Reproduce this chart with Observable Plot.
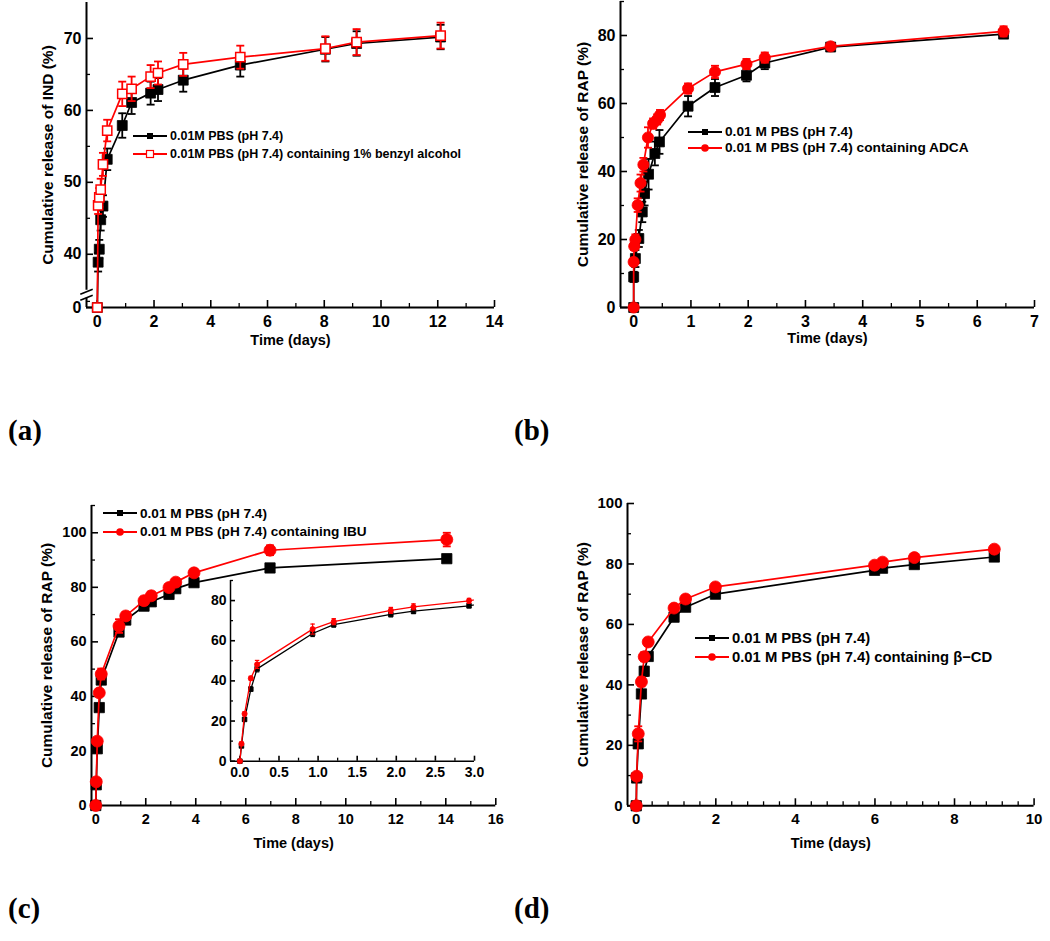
<!DOCTYPE html>
<html><head><meta charset="utf-8">
<script src="https://cdn.jsdelivr.net/npm/d3@7"></script>
<script src="https://cdn.jsdelivr.net/npm/@observablehq/plot@0.6"></script>
<style>
body{margin:0;background:#fff;}
#page{position:relative;width:1050px;height:941px;overflow:hidden;background:#fff;}
.plab{position:absolute;font-family:"Liberation Serif","Times New Roman",serif;font-weight:bold;font-size:29px;line-height:1;}
</style></head>
<body><div id="page"></div>
<script>
// ---------------- DATA ----------------
// Panel (a): IND release
const aTime   = [0, 0.03, 0.07, 0.12, 0.2, 0.35, 0.88, 1.21, 1.88, 2.14, 3.03, 5.04, 8.04, 9.14, 12.1];
const aPBS    = [0, 38.9, 40.7, 44.8, 46.7, 53.2, 57.9, 61.1, 62.4, 62.9, 64.2, 66.3, 68.5, 69.3, 70.2];
const aPBSErr = [0, 1.3, 1.3, 1.5, 1.5, 1.5, 1.7, 1.6, 1.6, 1.6, 1.6, 1.6, 1.7, 1.7, 1.7];
const aBA     = [0, 46.8, 47.9, 49.0, 52.5, 57.2, 62.3, 63.0, 64.7, 65.2, 66.4, 67.4, 68.6, 69.5, 70.4];
const aBAErr  = [0, 1.2, 1.3, 1.5, 1.6, 1.5, 1.7, 1.7, 1.6, 1.6, 1.6, 1.6, 1.7, 1.8, 1.8];

// Panel (b): RAP release, ADCA
const bTimePBS = [0, 0, 0.03, 0.09, 0.15, 0.19, 0.26, 0.37, 0.45, 0.95, 1.42, 1.97, 2.29, 3.44, 6.46];
const bPBS     = [0, 9.0, 14.4, 20.3, 28.1, 33.5, 39.2, 45.3, 48.7, 59.2, 64.7, 68.3, 71.9, 76.6, 80.4];
const bPBSErr  = [0, 1.5, 2.5, 2.5, 3.0, 3.5, 4.5, 3.5, 3.5, 3.0, 2.5, 1.8, 1.8, 1.0, 1.0];
const bTimeADCA = [0, 0, 0.01, 0.03, 0.07, 0.12, 0.17, 0.25, 0.34, 0.41, 0.46, 0.95, 1.42, 1.97, 2.29, 3.44, 6.46];
const bADCA     = [0, 13.4, 18.0, 20.0, 30.1, 36.6, 42.0, 50.0, 54.1, 55.3, 56.6, 64.4, 69.3, 71.6, 73.5, 76.8, 81.2];
const bADCAErr  = [0, 1.0, 1.0, 1.5, 2.0, 2.5, 2.0, 3.0, 1.5, 1.5, 1.5, 1.5, 1.8, 1.5, 1.5, 0.8, 1.5];

// Panel (c): RAP release, IBU (inset shows first 3 days of same data)
const cTime   = [0, 0.02, 0.06, 0.14, 0.22, 0.93, 1.2, 1.93, 2.22, 2.93, 3.2, 3.93, 6.97, 14.04];
const cPBS    = [0, 7.6, 20.8, 35.9, 46.0, 63.6, 68.0, 73.1, 74.7, 77.4, 79.5, 81.7, 87.1, 90.5];
const cPBSErr = [0, 0.8, 0.8, 1.0, 1.5, 1.5, 1.2, 1.2, 1.2, 1.0, 1.0, 1.0, 1.2, 1.2];
const cIBU    = [0, 8.7, 23.6, 41.3, 48.2, 65.8, 69.5, 75.1, 76.9, 79.9, 81.9, 85.3, 93.6, 97.5];
const cIBUErr = [0, 0.8, 1.0, 1.0, 2.0, 2.5, 1.5, 1.5, 1.5, 1.2, 1.2, 1.2, 1.8, 2.5];

// Panel (d): RAP release, beta-CD
const dTime   = [0, 0.01, 0.05, 0.13, 0.2, 0.3, 0.95, 1.24, 1.99, 5.99, 6.19, 6.99, 9.0];
const dPBS    = [0, 9.2, 20.5, 37.0, 44.5, 49.4, 62.4, 65.7, 70.0, 77.9, 78.6, 79.8, 82.3];
const dPBSErr = [0, 0.8, 1.2, 1.2, 1.5, 1.2, 1.0, 1.0, 0.8, 0.8, 0.8, 0.8, 0.8];
const dCD     = [0, 9.8, 23.8, 41.0, 49.3, 54.2, 65.4, 68.4, 72.4, 79.6, 80.6, 82.1, 84.9];
const dCDErr  = [0, 0.8, 2.5, 1.5, 1.5, 1.2, 1.0, 1.0, 1.0, 0.8, 0.8, 0.8, 0.8];

// Tick labels
const aXTicks = [0, 2, 4, 6, 8, 10, 12, 14];
const aYTicks = [40, 50, 60, 70];
const bXTicks = [0, 1, 2, 3, 4, 5, 6, 7];
const bYTicks = [0, 20, 40, 60, 80];
const cXTicks = [0, 2, 4, 6, 8, 10, 12, 14, 16];
const cYTicks = [0, 20, 40, 60, 80, 100];
const insXTicks = [0, 0.5, 1.0, 1.5, 2.0, 2.5, 3.0];
const insYTicks = [0, 20, 40, 60, 80];
const dXTicks = [0, 2, 4, 6, 8, 10];
const dYTicks = [0, 20, 40, 60, 80, 100];

// Text
const xTitle = "Time (days)";
const aYTitle = "Cumulative release of IND (%)";
const rapTitle = "Cumulative release of RAP (%)";
const legA = ["0.01M PBS (pH 7.4)", "0.01M PBS (pH 7.4) containing 1% benzyl alcohol"];
const legB = ["0.01 M PBS (pH 7.4)", "0.01 M PBS (pH 7.4) containing ADCA"];
const legC = ["0.01 M PBS (pH 7.4)", "0.01 M PBS (pH 7.4) containing IBU"];
const legD = ["0.01 M PBS (pH 7.4)", "0.01 M PBS (pH 7.4) containing \u03b2\u2212CD"];

// ---------------- DRAWING ----------------
const FONT = '"Liberation Sans", Arial, Helvetica, sans-serif';
const RED = "#ff0000", BLACK = "#000000";
const page = document.getElementById("page");
const capSym = {draw(ctx, size){ const w = Math.sqrt(size); ctx.moveTo(-w/2, 0); ctx.lineTo(w/2, 0); }};
const breakSym = {draw(ctx, size){ const w = Math.sqrt(size);
  ctx.moveTo(-w/2, -1); ctx.lineTo(w/2, -6);
  ctx.moveTo(-w/2, 5); ctx.lineTo(w/2, 0); }};

function rows(t, v, e){ return t.map((x, i) => ({x, y: v[i], e: e ? e[i] : 0})); }
function minorBetween(major, n){
  const out = [];
  for (let i = 0; i < major.length - 1; i++){
    const a = major[i], b = major[i+1];
    for (let k = 1; k <= n; k++) out.push(a + (b - a) * k / (n + 1));
  }
  return out;
}

function seriesMarks(s, fy, clip){
  const data = rows(s.t, s.v, s.e).filter(d => s.maxX == null || d.x <= s.maxX);
  const lineData = rows(s.t, s.v, s.e);
  const ed = data.filter(d => d.e > 0);
  const ew = s.ew ?? 1.8;
  return [
    Plot.line(lineData, {x: "x", y: d => fy(d.y), stroke: s.color, strokeWidth: s.lw ?? 1.7, clip}),
    Plot.ruleX(ed, {x: "x", y1: d => fy(d.y - d.e), y2: d => fy(d.y + d.e), stroke: s.color, strokeWidth: ew}),
    Plot.dot(ed, {x: "x", y: d => fy(d.y + d.e), symbol: capSym, r: s.capR ?? 4.5, stroke: s.color, strokeWidth: ew, fill: "none"}),
    Plot.dot(ed, {x: "x", y: d => fy(d.y - d.e), symbol: capSym, r: s.capR ?? 4.5, stroke: s.color, strokeWidth: ew, fill: "none"}),
    Plot.dot(data, {x: "x", y: d => fy(d.y), symbol: s.symbol, r: s.r, fill: s.fill, stroke: s.stroke, strokeWidth: s.sw ?? 0.8})
  ];
}

function makePanel(c){
  const M = {l: c.ml ?? 80, r: c.mr ?? 14, t: c.mt ?? 6, b: c.mb ?? 52};
  const fw = c.fr - c.fl, fh = c.fb - c.ft;
  const fy = c.fy ?? (v => v);
  const x0 = c.xDomain[0], y0 = c.yDomain[0];
  const marks = [];
  const segs = c.yAxisSegs ?? [[c.yDomain[0], c.yDomain[1]]];
  segs.forEach(([a, b]) => marks.push(Plot.ruleX([x0], {x: d => d, y1: () => a, y2: () => b, stroke: BLACK, strokeWidth: c.axW ?? 2})));
  marks.push(Plot.ruleY([y0], {y: d => d, stroke: BLACK, strokeWidth: c.axW ?? 2}));
  const maj = c.majLen ?? 7, min = c.minLen ?? 4;
  marks.push(Plot.tickX(c.xMajor, {x: d => d, insetTop: fh - maj, stroke: BLACK, strokeWidth: 1.6}));
  marks.push(Plot.tickX(c.xMinor, {x: d => d, insetTop: fh - min, stroke: BLACK, strokeWidth: 1.3}));
  marks.push(Plot.tickY(c.yMajorPos, {y: d => d, insetRight: fw - maj, stroke: BLACK, strokeWidth: 1.6}));
  marks.push(Plot.tickY(c.yMinor, {y: d => d, insetRight: fw - min, stroke: BLACK, strokeWidth: 1.3}));
  marks.push(Plot.axisX({ticks: c.xMajor, tickSize: 0, tickPadding: c.xPad ?? 8, tickFormat: c.xFmt ?? (d => String(d)), label: null, fontSize: c.tfs, fontWeight: "bold"}));
  marks.push(Plot.axisY({ticks: c.yMajorPos, tickSize: 0, tickPadding: c.yPad ?? 5, tickFormat: c.yFmt ?? (d => String(d)), label: null, fontSize: c.tfs, fontWeight: "bold"}));
  if (c.breakAt != null) marks.push(Plot.dot([c.breakAt], {x: () => x0, y: d => d, symbol: breakSym, r: 7, stroke: BLACK, strokeWidth: 1.6, fill: "none"}));
  if (c.yTitle) marks.push(Plot.text([c.yTitle], {text: d => d, frameAnchor: "left", dx: c.yTitleDx, rotate: -90, textAnchor: "middle", lineAnchor: "middle", fontSize: c.yTitleFs ?? 15.5, fontWeight: "bold"}));
  if (c.xTitle) marks.push(Plot.text([c.xTitle], {text: d => d, frameAnchor: "bottom", dy: c.xTitleDy, textAnchor: "middle", lineAnchor: "middle", fontSize: c.xTitleFs ?? 14.5, fontWeight: "bold"}));
  c.series.forEach(s => marks.push(...seriesMarks(s, fy, c.clip)));
  const svg = Plot.plot({
    width: fw + M.l + M.r, height: fh + M.t + M.b,
    marginLeft: M.l, marginRight: M.r, marginTop: M.t, marginBottom: M.b,
    x: {type: "linear", domain: c.xDomain},
    y: {type: "linear", domain: c.yDomain},
    style: {fontFamily: FONT, fontWeight: "bold", color: "#000", background: "transparent", overflow: "visible"},
    marks
  });
  svg.style.position = "absolute";
  svg.style.left = (c.fl - M.l) + "px";
  svg.style.top = (c.ft - M.t) + "px";
  page.appendChild(svg);
}

function swatch(kind){
  let m = "";
  if (kind.marker === "sq") m = `<rect x="14" y="5" width="6" height="6" fill="${kind.color}"/>`;
  if (kind.marker === "osq") m = `<rect x="13.5" y="4.5" width="7" height="7" fill="#fff" stroke="${kind.color}" stroke-width="1.2"/>`;
  if (kind.marker === "ci") m = `<circle cx="17" cy="8" r="3.8" fill="${kind.color}"/>`;
  return `<svg width="34" height="16" style="display:block;flex:none"><line x1="0" x2="34" y1="8" y2="8" stroke="${kind.color}" stroke-width="1.8"/>${m}</svg>`;
}
function legend(x, y, gap, fs, texts, kinds){
  texts.forEach((t, i) => {
    const div = document.createElement("div");
    div.style.cssText = `position:absolute;left:${x}px;top:${y + i * gap - 8}px;height:16px;display:flex;align-items:center;white-space:nowrap;font-family:${FONT};font-weight:bold;font-size:${fs}px;color:#000;`;
    div.innerHTML = swatch(kinds[i]) + `<span style="margin-left:3px">${t}</span>`;
    page.appendChild(div);
  });
}
function panelLabel(t, x, y){
  const d = document.createElement("div");
  d.className = "plab"; d.textContent = t;
  d.style.left = x + "px"; d.style.top = y + "px";
  page.appendChild(d);
}

const blackSq = (t, v, e, extra) => Object.assign({t, v, e, color: BLACK, symbol: "square", r: 5.6, fill: BLACK, stroke: BLACK}, extra);
const redCi = (t, v, e, extra) => Object.assign({t, v, e, color: RED, symbol: "circle", r: 5.6, fill: RED, stroke: RED}, extra);

// ---- (a) ----
const aBrk = v => v < 30 ? 32.6 + v : v;
makePanel({
  fl: 86, ft: 2, fr: 494, fb: 307, xDomain: [-0.38, 14], yDomain: [32.6, 75], fy: aBrk,
  yAxisSegs: [[32.6, 33.9], [35.0, 75]], breakAt: 34.3,
  xMajor: aXTicks, xMinor: minorBetween(aXTicks, 1),
  yMajorPos: [aBrk(0), ...aYTicks], yMinor: [33.45, 45, 55, 65],
  yFmt: d => d < 35 ? "0" : String(d),
  tfs: 16, yTitle: aYTitle, yTitleDx: -38, xTitle, xTitleDy: 33,
  series: [
    blackSq(aTime, aPBS, aPBSErr),
    {t: aTime, v: aBA, e: aBAErr, color: RED, symbol: "square", r: 5.2, fill: "#fff", stroke: RED, sw: 1.5}
  ]
});
legend(133, 136, 18, 12.5, legA, [{color: BLACK, marker: "sq"}, {color: RED, marker: "osq"}]);

// ---- (b) ----
makePanel({
  fl: 620, ft: 1.3, fr: 1034, fb: 307.3, xDomain: [-0.23, 7], yDomain: [0, 90],
  xMajor: bXTicks, xMinor: minorBetween(bXTicks, 1),
  yMajorPos: bYTicks, yMinor: [10, 30, 50, 70, 90],
  tfs: 16, yTitle: rapTitle, yTitleDx: -37, xTitle, xTitleDy: 31,
  series: [ blackSq(bTimePBS, bPBS, bPBSErr), redCi(bTimeADCA, bADCA, bADCAErr) ]
});
legend(688, 131.7, 16, 13.7, legB, [{color: BLACK, marker: "sq"}, {color: RED, marker: "ci"}]);

// ---- (c) ----
makePanel({
  fl: 90.7, ft: 505, fr: 495, fb: 805, xDomain: [-0.17, 16], yDomain: [0, 110],
  xMajor: cXTicks, xMinor: minorBetween(cXTicks, 1),
  yMajorPos: cYTicks, yMinor: [10, 30, 50, 70, 90, 110],
  tfs: 14.5, yTitle: rapTitle, yTitleDx: -44, xTitle, xTitleDy: 38,
  series: [ blackSq(cTime, cPBS, cPBSErr, {r: 5.8}), redCi(cTime, cIBU, cIBUErr, {r: 6}) ]
});
legend(103, 513.3, 18.4, 13.6, legC, [{color: BLACK, marker: "sq"}, {color: RED, marker: "ci"}]);
// inset
makePanel({
  fl: 230, ft: 580, fr: 474, fb: 760.7, xDomain: [-0.12, 3], yDomain: [0, 90], clip: true,
  ml: 40, mb: 30, mr: 10, axW: 1.5, majLen: 5, minLen: 3,
  xMajor: insXTicks, xMinor: minorBetween(insXTicks, 1), xFmt: d3.format(".1f"), xPad: 6,
  yMajorPos: insYTicks, yMinor: [10, 30, 50, 70, 90], yPad: 4,
  tfs: 14,
  series: [
    blackSq(cTime, cPBS, cPBSErr, {r: 2.6, lw: 1.3, ew: 1.2, capR: 2.5, maxX: 3}),
    redCi(cTime, cIBU, cIBUErr, {r: 2.6, lw: 1.3, ew: 1.2, capR: 2.5, maxX: 3})
  ]
});

// ---- (d) ----
makePanel({
  fl: 626.7, ft: 502.7, fr: 1033.3, fb: 805, xDomain: [-0.22, 10], yDomain: [0, 100],
  xMajor: dXTicks, xMinor: minorBetween(dXTicks, 4),
  yMajorPos: dYTicks, yMinor: [10, 30, 50, 70, 90],
  tfs: 15, yTitle: rapTitle, yTitleDx: -44, xTitle, xTitleDy: 38,
  series: [ blackSq(dTime, dPBS, dPBSErr, {r: 5.8}), redCi(dTime, dCD, dCDErr, {r: 6}) ]
});
legend(695, 638.3, 18.4, 14.8, legD, [{color: BLACK, marker: "sq"}, {color: RED, marker: "ci"}]);

panelLabel("(a)", 8, 416);
panelLabel("(b)", 514, 416);
panelLabel("(c)", 8, 894);
panelLabel("(d)", 514, 894);
</script></body></html>
